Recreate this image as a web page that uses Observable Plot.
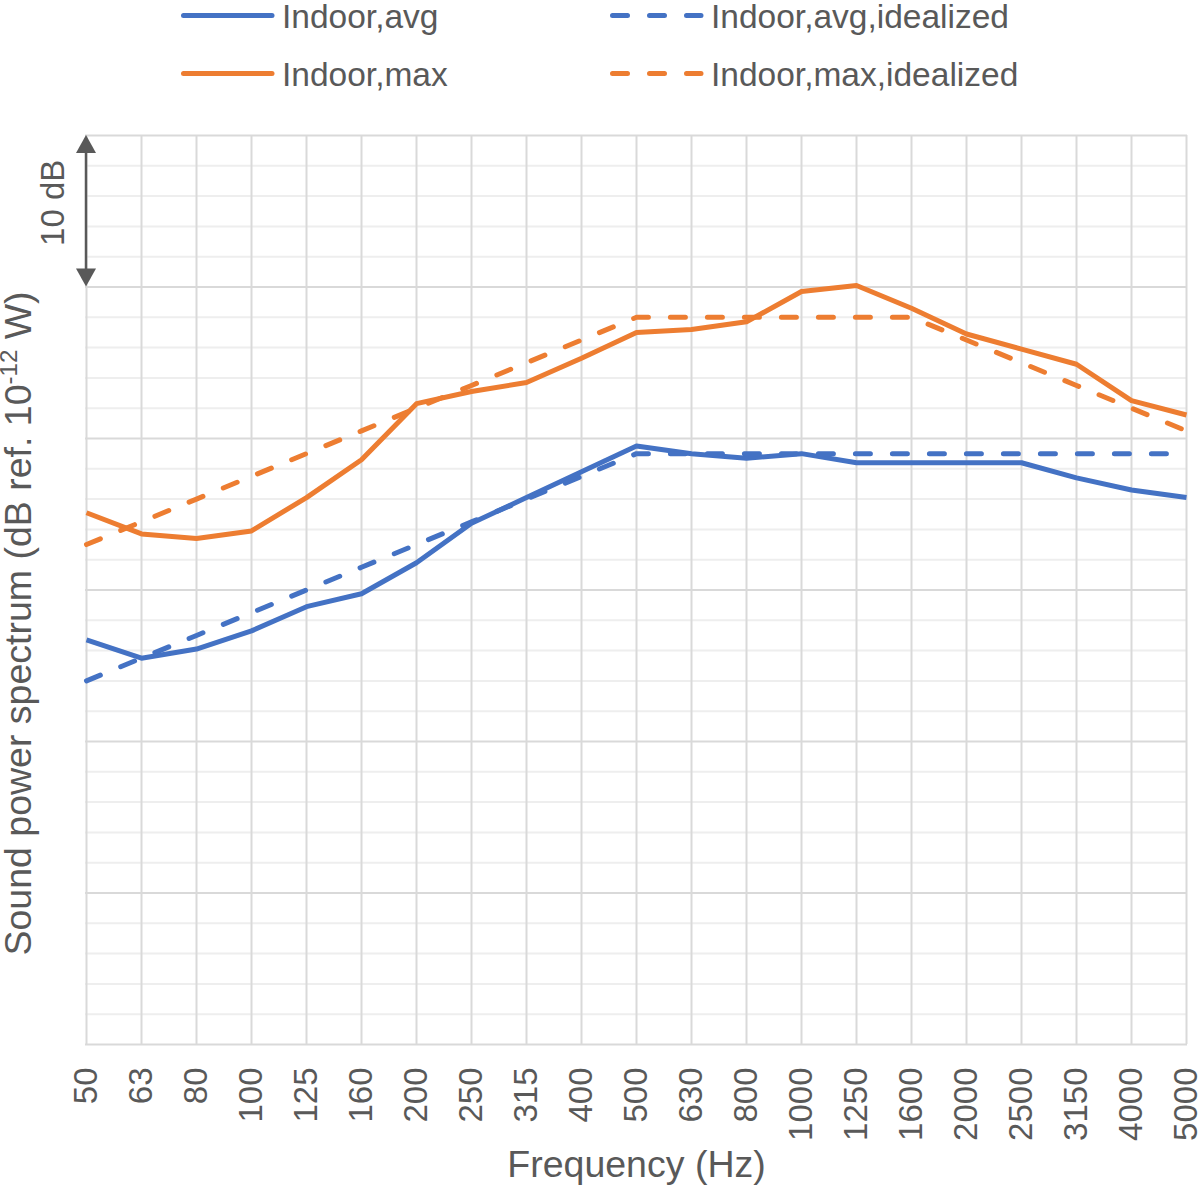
<!DOCTYPE html>
<html><head><meta charset="utf-8">
<script src="https://cdn.jsdelivr.net/npm/d3@7"></script>
<script src="https://cdn.jsdelivr.net/npm/@observablehq/plot@0.6"></script>
<style>
body{margin:0;background:#fff;font-family:"Liberation Sans",Arial,sans-serif;}
svg{display:block}
</style>
</head><body><div id="chart"></div>
<script>
// Categories (third-octave band centre frequencies, Hz)
const freqs = ["50","63","80","100","125","160","200","250","315","400","500","630","800","1000","1250","1600","2000","2500","3150","4000","5000"];
// Series values (dB, arbitrary offset; 10 dB per major grid step)
const indoorAvg = [26.7,25.5,26.1,27.3,28.9,29.75,31.8,34.4,36.1,37.8,39.5,39.0,38.7,39.0,38.4,38.4,38.4,38.4,37.4,36.6,36.1];
const indoorMax = [35.1,33.7,33.4,33.9,36.1,38.6,42.3,43.1,43.7,45.3,47.0,47.2,47.7,49.7,50.1,48.6,46.9,45.9,44.9,42.5,41.55];
const indoorAvgIdeal = [24,25.5,27,28.5,30,31.5,33,34.5,36,37.5,39,39,39,39,39,39,39,39,39,39,39];
const indoorMaxIdeal = [33,34.5,36,37.5,39,40.5,42,43.5,45,46.5,48,48,48,48,48,48,46.5,45,43.5,42,40.5];
const majorTicks = [0,10,20,30,40,50,60];
const minorTicks = [2,4,6,8,12,14,16,18,22,24,26,28,32,34,36,38,42,44,46,48,52,54,56,58];

const FONT = '"Liberation Sans", Arial, sans-serif';
const TEXT = "#595959";
const BLUE = "#4472C4", ORANGE = "#ED7D31";
const DASH = "15,22";
const LW = 5;

const series = [
  {name: "Indoor,avg", values: indoorAvg, color: BLUE, dash: null},
  {name: "Indoor,avg,idealized", values: indoorAvgIdeal, color: BLUE, dash: DASH},
  {name: "Indoor,max", values: indoorMax, color: ORANGE, dash: null},
  {name: "Indoor,max,idealized", values: indoorMaxIdeal, color: ORANGE, dash: DASH}
];
const rows = s => freqs.map((f, i) => ({f, v: s.values[i]}));

// ---------- Legend (above the plot) ----------
const legend = d3.create("svg").attr("width", 1200).attr("height", 110)
  .style("font-family", FONT);
const legendPos = [
  {x: 181, y: 15.5}, {x: 610, y: 15.5}, {x: 181, y: 73.5}, {x: 610, y: 73.5}
];
series.forEach((s, i) => {
  const p = legendPos[i];
  legend.append("line")
    .attr("x1", p.x + 2.5).attr("x2", p.x + 91)
    .attr("y1", p.y).attr("y2", p.y)
    .attr("stroke", s.color).attr("stroke-width", LW)
    .attr("stroke-linecap", "round")
    .attr("stroke-dasharray", s.dash);
  legend.append("text")
    .attr("x", p.x + 101).attr("y", p.y + 12)
    .attr("fill", TEXT).attr("font-size", 33.5)
    .text(s.name);
});

// ---------- Plot ----------
const lineMarks = series.map(s => Plot.line(rows(s), {
  x: "f", y: "v", stroke: s.color, strokeWidth: LW,
  strokeDasharray: s.dash || undefined,
  strokeLinecap: s.dash ? "round" : "butt",
  strokeLinejoin: "round"
}));

const plot = Plot.plot({
  width: 1200, height: 1087,
  marginTop: 25, marginRight: 13, marginBottom: 153, marginLeft: 85,
  style: {fontFamily: FONT, color: TEXT, background: "white"},
  x: {type: "point", domain: freqs, padding: 0},
  y: {domain: [0, 60], axis: null},
  marks: [
    Plot.gridY(minorTicks, {stroke: "#eeeeee", strokeWidth: 2, strokeOpacity: 1}),
    Plot.gridY(majorTicks, {stroke: "#d9d9d9", strokeWidth: 2, strokeOpacity: 1}),
    Plot.gridX(freqs, {stroke: "#d9d9d9", strokeWidth: 2, strokeOpacity: 1}),
    Plot.axisX({tickRotate: -90, tickSize: 0, tickPadding: 23, fontSize: 33, label: null, fill: TEXT}),
    Plot.text(["Frequency (Hz)"], {frameAnchor: "bottom", dy: 132, fontSize: 37.5, fill: TEXT}),
    ...lineMarks
  ]
});

// ---------- Annotations using the plot's own scales ----------
const svg = d3.select(plot);
const xs = plot.scale("x"), ys = plot.scale("y");
const ax = xs.apply("50");
const yTop = ys.apply(60), yBot = ys.apply(50);
const head = 18, hw = 10;
const g = svg.append("g");
g.append("line").attr("x1", ax).attr("x2", ax)
  .attr("y1", yTop + head - 2).attr("y2", yBot - head + 2)
  .attr("stroke", TEXT).attr("stroke-width", 2.5);
g.append("path")
  .attr("d", `M${ax},${yTop} L${ax - hw},${yTop + head} L${ax + hw},${yTop + head} Z`)
  .attr("fill", TEXT);
g.append("path")
  .attr("d", `M${ax},${yBot} L${ax - hw},${yBot - head} L${ax + hw},${yBot - head} Z`)
  .attr("fill", TEXT);
g.append("text")
  .attr("transform", `translate(${ax - 22},${(yTop + yBot) / 2 - 8}) rotate(-90)`)
  .attr("text-anchor", "middle").attr("fill", TEXT).attr("font-size", 33)
  .style("font-family", FONT)
  .text("10 dB");

// Y axis title with superscript
const yt = svg.append("text")
  .attr("transform", `translate(31,${ys.apply(30) + 34}) rotate(-90)`)
  .attr("text-anchor", "middle").attr("fill", TEXT).attr("font-size", 37.5)
  .style("font-family", FONT);
yt.append("tspan").text("Sound power spectrum (dB ref. 10");
yt.append("tspan").attr("font-size", 24).attr("dy", -14).text("-12");
yt.append("tspan").attr("dy", 14).text(" W)");

const chart = document.getElementById("chart");
chart.appendChild(legend.node());
chart.appendChild(plot);
</script>
</body></html>
